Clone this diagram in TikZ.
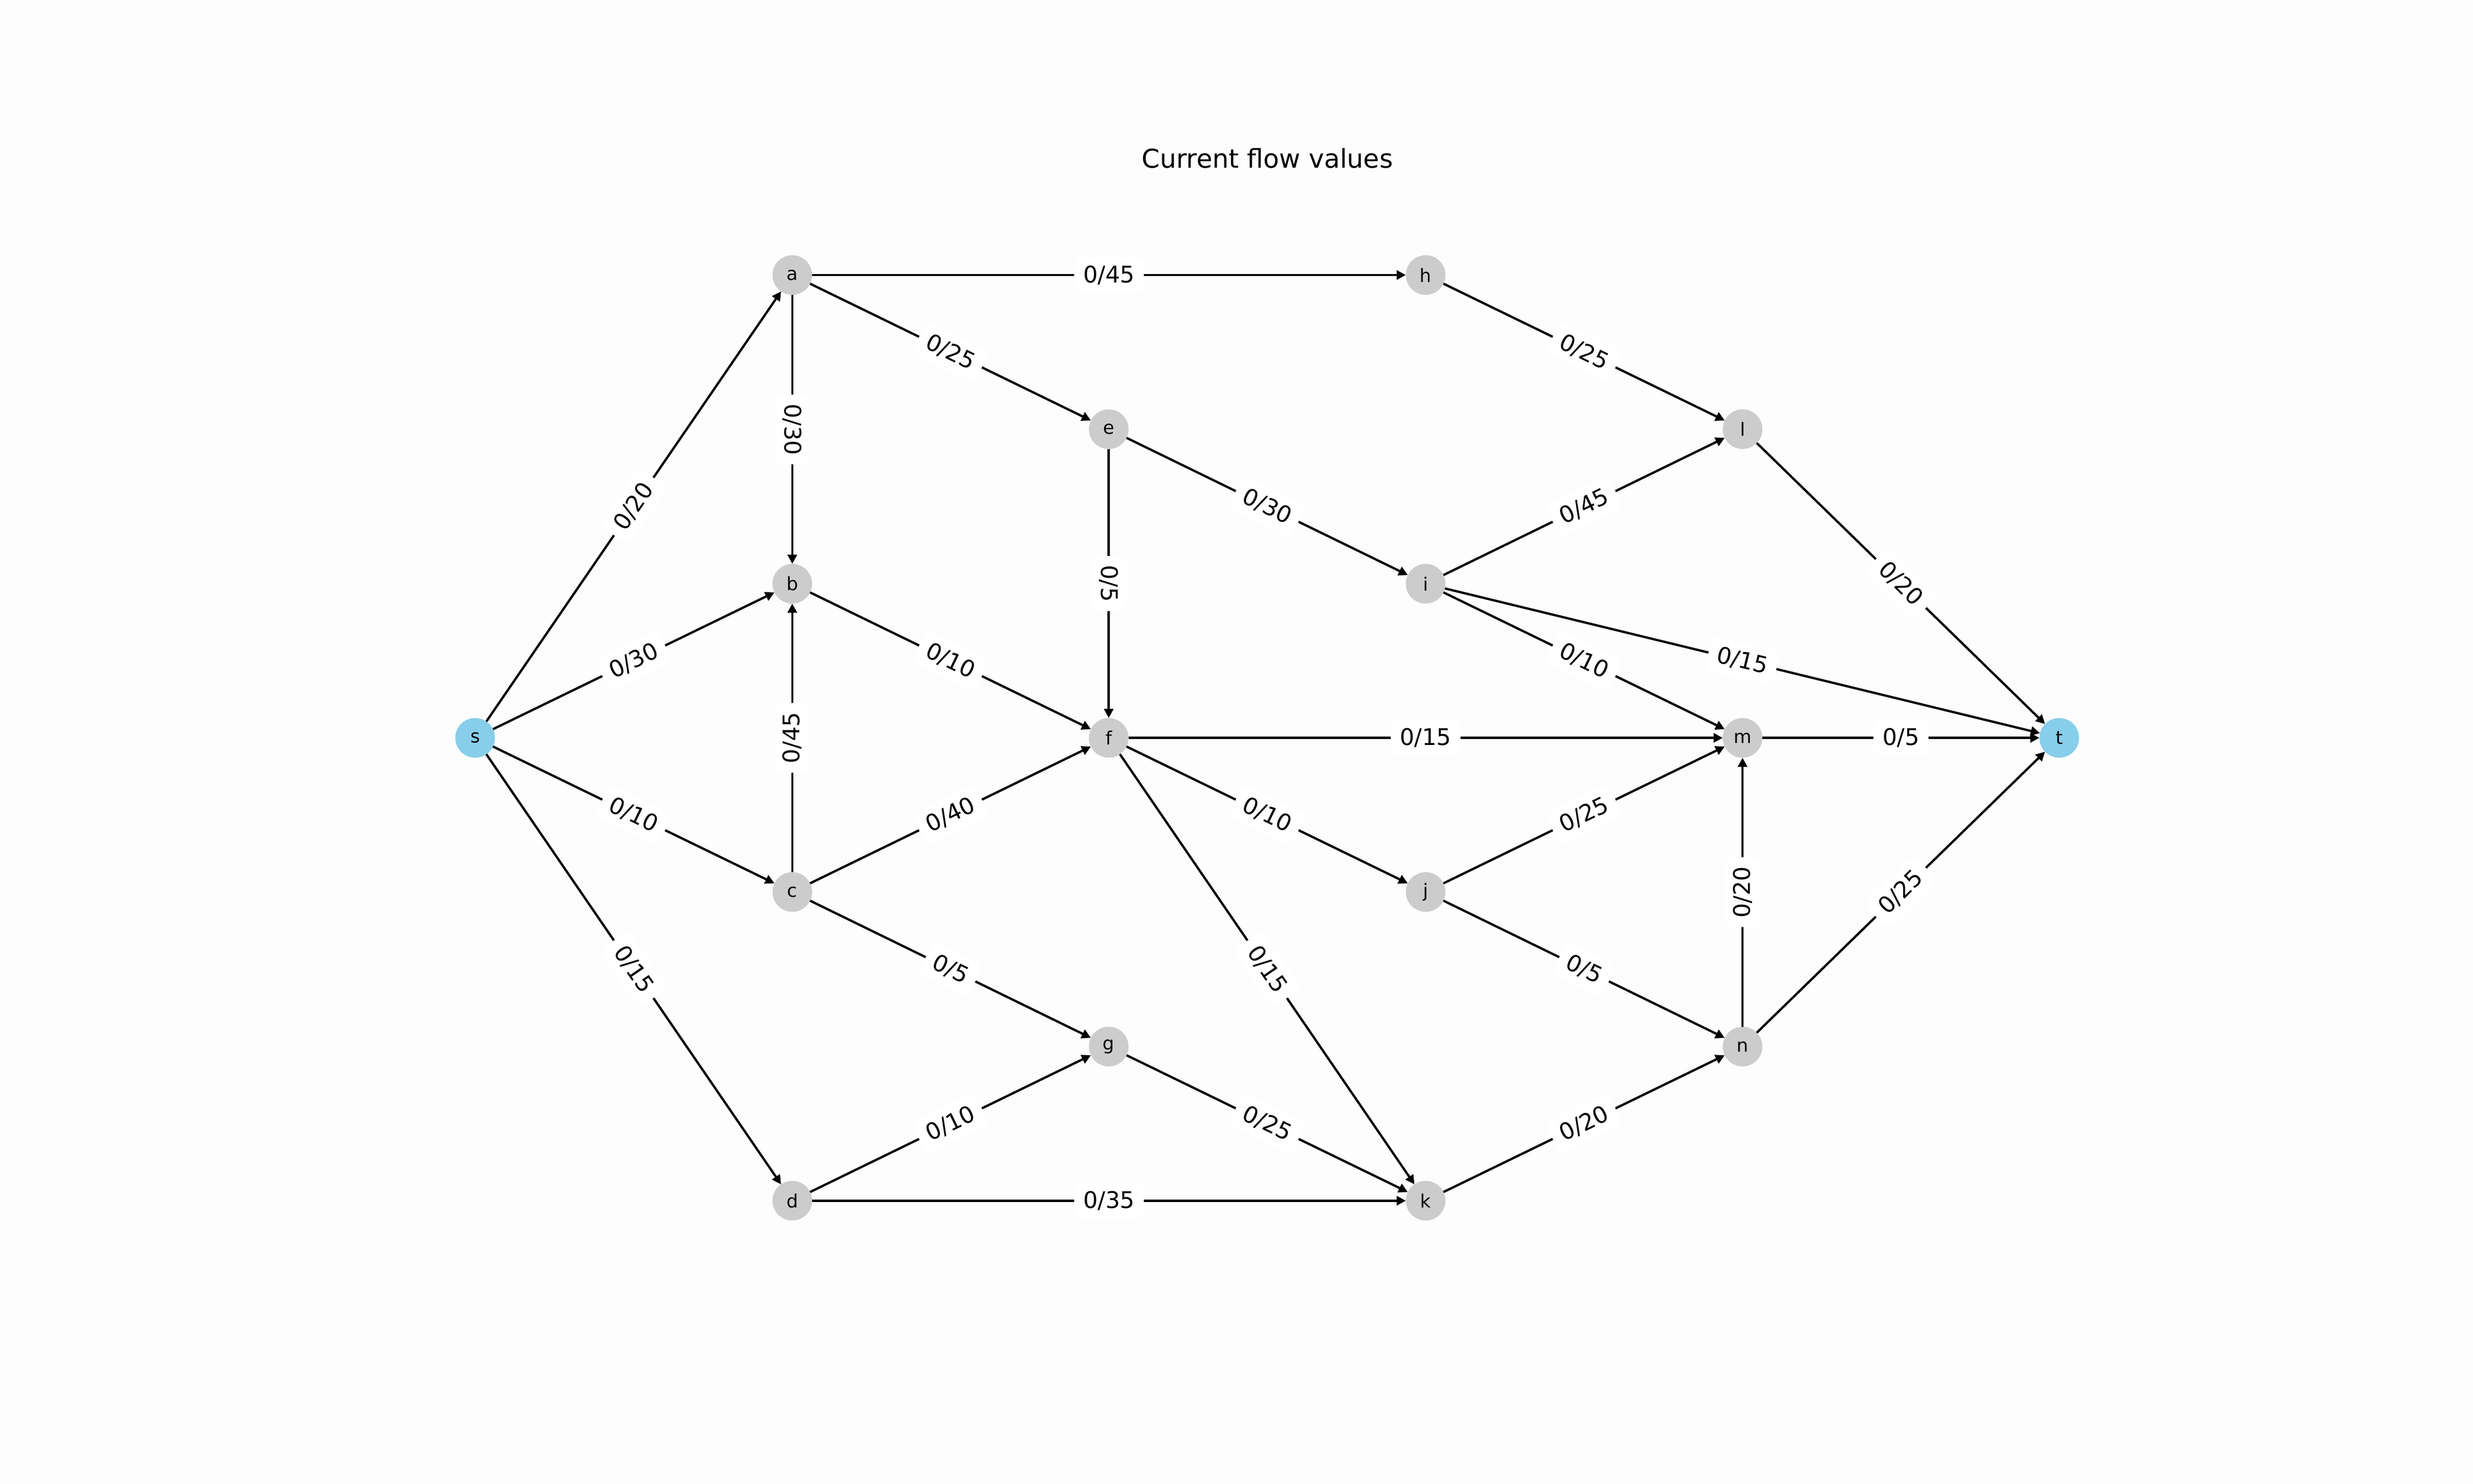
\documentclass[tikz,border=0pt]{standalone}
\usepackage{fontspec}
\setmainfont{DejaVu Sans}
\usetikzlibrary{arrows.meta}
\definecolor{nodegray}{HTML}{CCCCCC}
\definecolor{srcblue}{HTML}{87CEEB}
\definecolor{bgcol}{HTML}{FDFDFD}
\begin{document}
\begin{tikzpicture}[x=1pt,y=1pt,
  vtx/.style={circle, fill=nodegray, minimum size=17.32pt, inner sep=0pt, outer sep=0pt, font=\fontsize{8}{9.6}\selectfont},
  src/.style={vtx, fill=srcblue},
  flowedge/.style={-{Triangle[length=4pt,width=4pt]}, line width=1pt, black},
  lbl/.style={fill=white, rounded corners=3pt, inner xsep=4pt, inner ysep=3.5pt, font=\fontsize{10}{12}\selectfont, text=black, midway}]
\fill[bgcol] (0,0) rectangle (1080,648);
\useasboundingbox (0,0) rectangle (1080,648);
\node (title) at (553.5,578.9) {\fontsize{11.3}{13.5}\selectfont Current flow values};
% nodes
\node[src] (s) at (207.5,325.8) {s};
\node[vtx] (a) at (346.0,527.9) {a};
\node[vtx] (b) at (346.0,393.1) {b};
\node[vtx] (c) at (346.0,258.5) {c};
\node[vtx] (d) at (346.0,123.7) {d};
\node[vtx] (e) at (484.2,460.6) {e};
\node[vtx] (f) at (484.2,325.8) {f};
\node[vtx] (g) at (484.2,191.0) {g};
\node[vtx] (h) at (622.6,527.9) {h};
\node[vtx] (i) at (622.6,393.1) {i};
\node[vtx] (j) at (622.6,258.5) {j};
\node[vtx] (k) at (622.6,123.7) {k};
\node[vtx] (l) at (761.0,460.6) {l};
\node[vtx] (m) at (761.0,325.8) {m};
\node[vtx] (n) at (761.0,191.0) {n};
\node[src] (t) at (899.3,325.8) {t};
% edges
\draw[flowedge] (s) -- node[lbl,sloped]{0/20} (a);
\draw[flowedge] (s) -- node[lbl,sloped]{0/30} (b);
\draw[flowedge] (s) -- node[lbl,sloped]{0/10} (c);
\draw[flowedge] (s) -- node[lbl,sloped]{0/15} (d);
\draw[flowedge] (a) -- node[lbl,sloped]{0/45} (h);
\draw[flowedge] (a) -- node[lbl,sloped]{0/25} (e);
\draw[flowedge] (a) -- node[lbl,rotate=-90]{0/30} (b);
\draw[flowedge] (b) -- node[lbl,sloped]{0/10} (f);
\draw[flowedge] (c) -- node[lbl,rotate=90]{0/45} (b);
\draw[flowedge] (c) -- node[lbl,sloped]{0/40} (f);
\draw[flowedge] (c) -- node[lbl,sloped]{0/5} (g);
\draw[flowedge] (d) -- node[lbl,sloped]{0/10} (g);
\draw[flowedge] (d) -- node[lbl,sloped]{0/35} (k);
\draw[flowedge] (e) -- node[lbl,rotate=-90]{0/5} (f);
\draw[flowedge] (e) -- node[lbl,sloped]{0/30} (i);
\draw[flowedge] (f) -- node[lbl,sloped]{0/15} (m);
\draw[flowedge] (f) -- node[lbl,sloped]{0/10} (j);
\draw[flowedge] (f) -- node[lbl,sloped]{0/15} (k);
\draw[flowedge] (g) -- node[lbl,sloped]{0/25} (k);
\draw[flowedge] (h) -- node[lbl,sloped]{0/25} (l);
\draw[flowedge] (i) -- node[lbl,sloped]{0/45} (l);
\draw[flowedge] (i) -- node[lbl,sloped]{0/15} (t);
\draw[flowedge] (i) -- node[lbl,sloped]{0/10} (m);
\draw[flowedge] (j) -- node[lbl,sloped]{0/25} (m);
\draw[flowedge] (j) -- node[lbl,sloped]{0/5} (n);
\draw[flowedge] (k) -- node[lbl,sloped]{0/20} (n);
\draw[flowedge] (l) -- node[lbl,sloped]{0/20} (t);
\draw[flowedge] (m) -- node[lbl,sloped]{0/5} (t);
\draw[flowedge] (n) -- node[lbl,rotate=90]{0/20} (m);
\draw[flowedge] (n) -- node[lbl,sloped]{0/25} (t);
\end{tikzpicture}
\end{document}
